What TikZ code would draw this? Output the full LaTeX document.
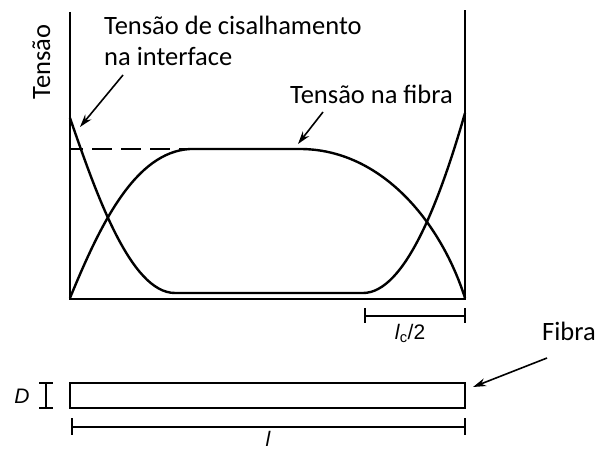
\documentclass[tikz,border=0pt]{standalone}
\usepackage{fontspec}
\setmainfont{Carlito}
\newfontfamily\dimfont{Liberation Sans}
\usetikzlibrary{arrows.meta}
\begin{document}
\begin{tikzpicture}[x=1pt,y=-1pt,axis/.style={line width=2.8pt},curve/.style={line width=2.4pt},thinline/.style={line width=1.8pt},
lbl/.style={font=\fontsize{26.5}{30}\selectfont,inner sep=0,anchor=base west},dim/.style={font=\dimfont\fontsize{21}{24}\selectfont,inner sep=0,anchor=base},
ptr/.style={-{Stealth[length=13pt,width=8pt]},line width=1.6pt}]
\useasboundingbox(0,0)rectangle(596,452);
\draw[axis](70,12)--(70,299)--(465,299)--(465,10);
\draw[curve,dash pattern=on 20pt off 9pt,dash phase=7pt](70,149)--(190,149);
\draw[curve](70,118)..controls(95,190)and(130,293)..(175,293)--(363,293)..controls(405,293)and(440,200)..(465,113);
\draw[curve](70,298)..controls(100,225)and(135,152)..(190,149)--(300,149)..controls(380,149)and(440,220)..(465,298);
\node[lbl,rotate=90,anchor=base](tensao)at(50,62){Tensão};
\node[lbl](shear)at(104,35){Tensão de cisalhamento};\node[lbl](iface)at(104,65){na interface};
\node[lbl](tfibra)at(290,103){Tensão na fibra};\node[lbl](fibra)at(542,340){Fibra};
\coordinate(shtail)at(123,75);\coordinate(shtip)at(80,127);\draw[ptr](shtail)--(shtip);
\coordinate(tftail)at(323,112);\coordinate(tftip)at(298,144);\draw[ptr](tftail)--(tftip);
\coordinate(fbtail)at(547,358);\coordinate(fbtip)at(473,387);\draw[ptr](fbtail)--(fbtip);
\draw[curve](70,383)rectangle(465,408);
\draw[thinline](39,383)--(53,383)(46,383)--(46,408)(39,408)--(53,408);
\draw[thinline](365,308)--(365,323)(365,316)--(465,316)(465,308)--(465,323);
\draw[thinline](72,418)--(72,435)(72,427)--(465,427)(465,418)--(465,435);
\node[dim](lc)at(410,339){\itshape l\/\upshape\textsubscript{c}/2};
\node[dim](dlab)at(22,403){\itshape D};
\node[dim](llab)at(268,446){\itshape l};
\end{tikzpicture}
\end{document}
